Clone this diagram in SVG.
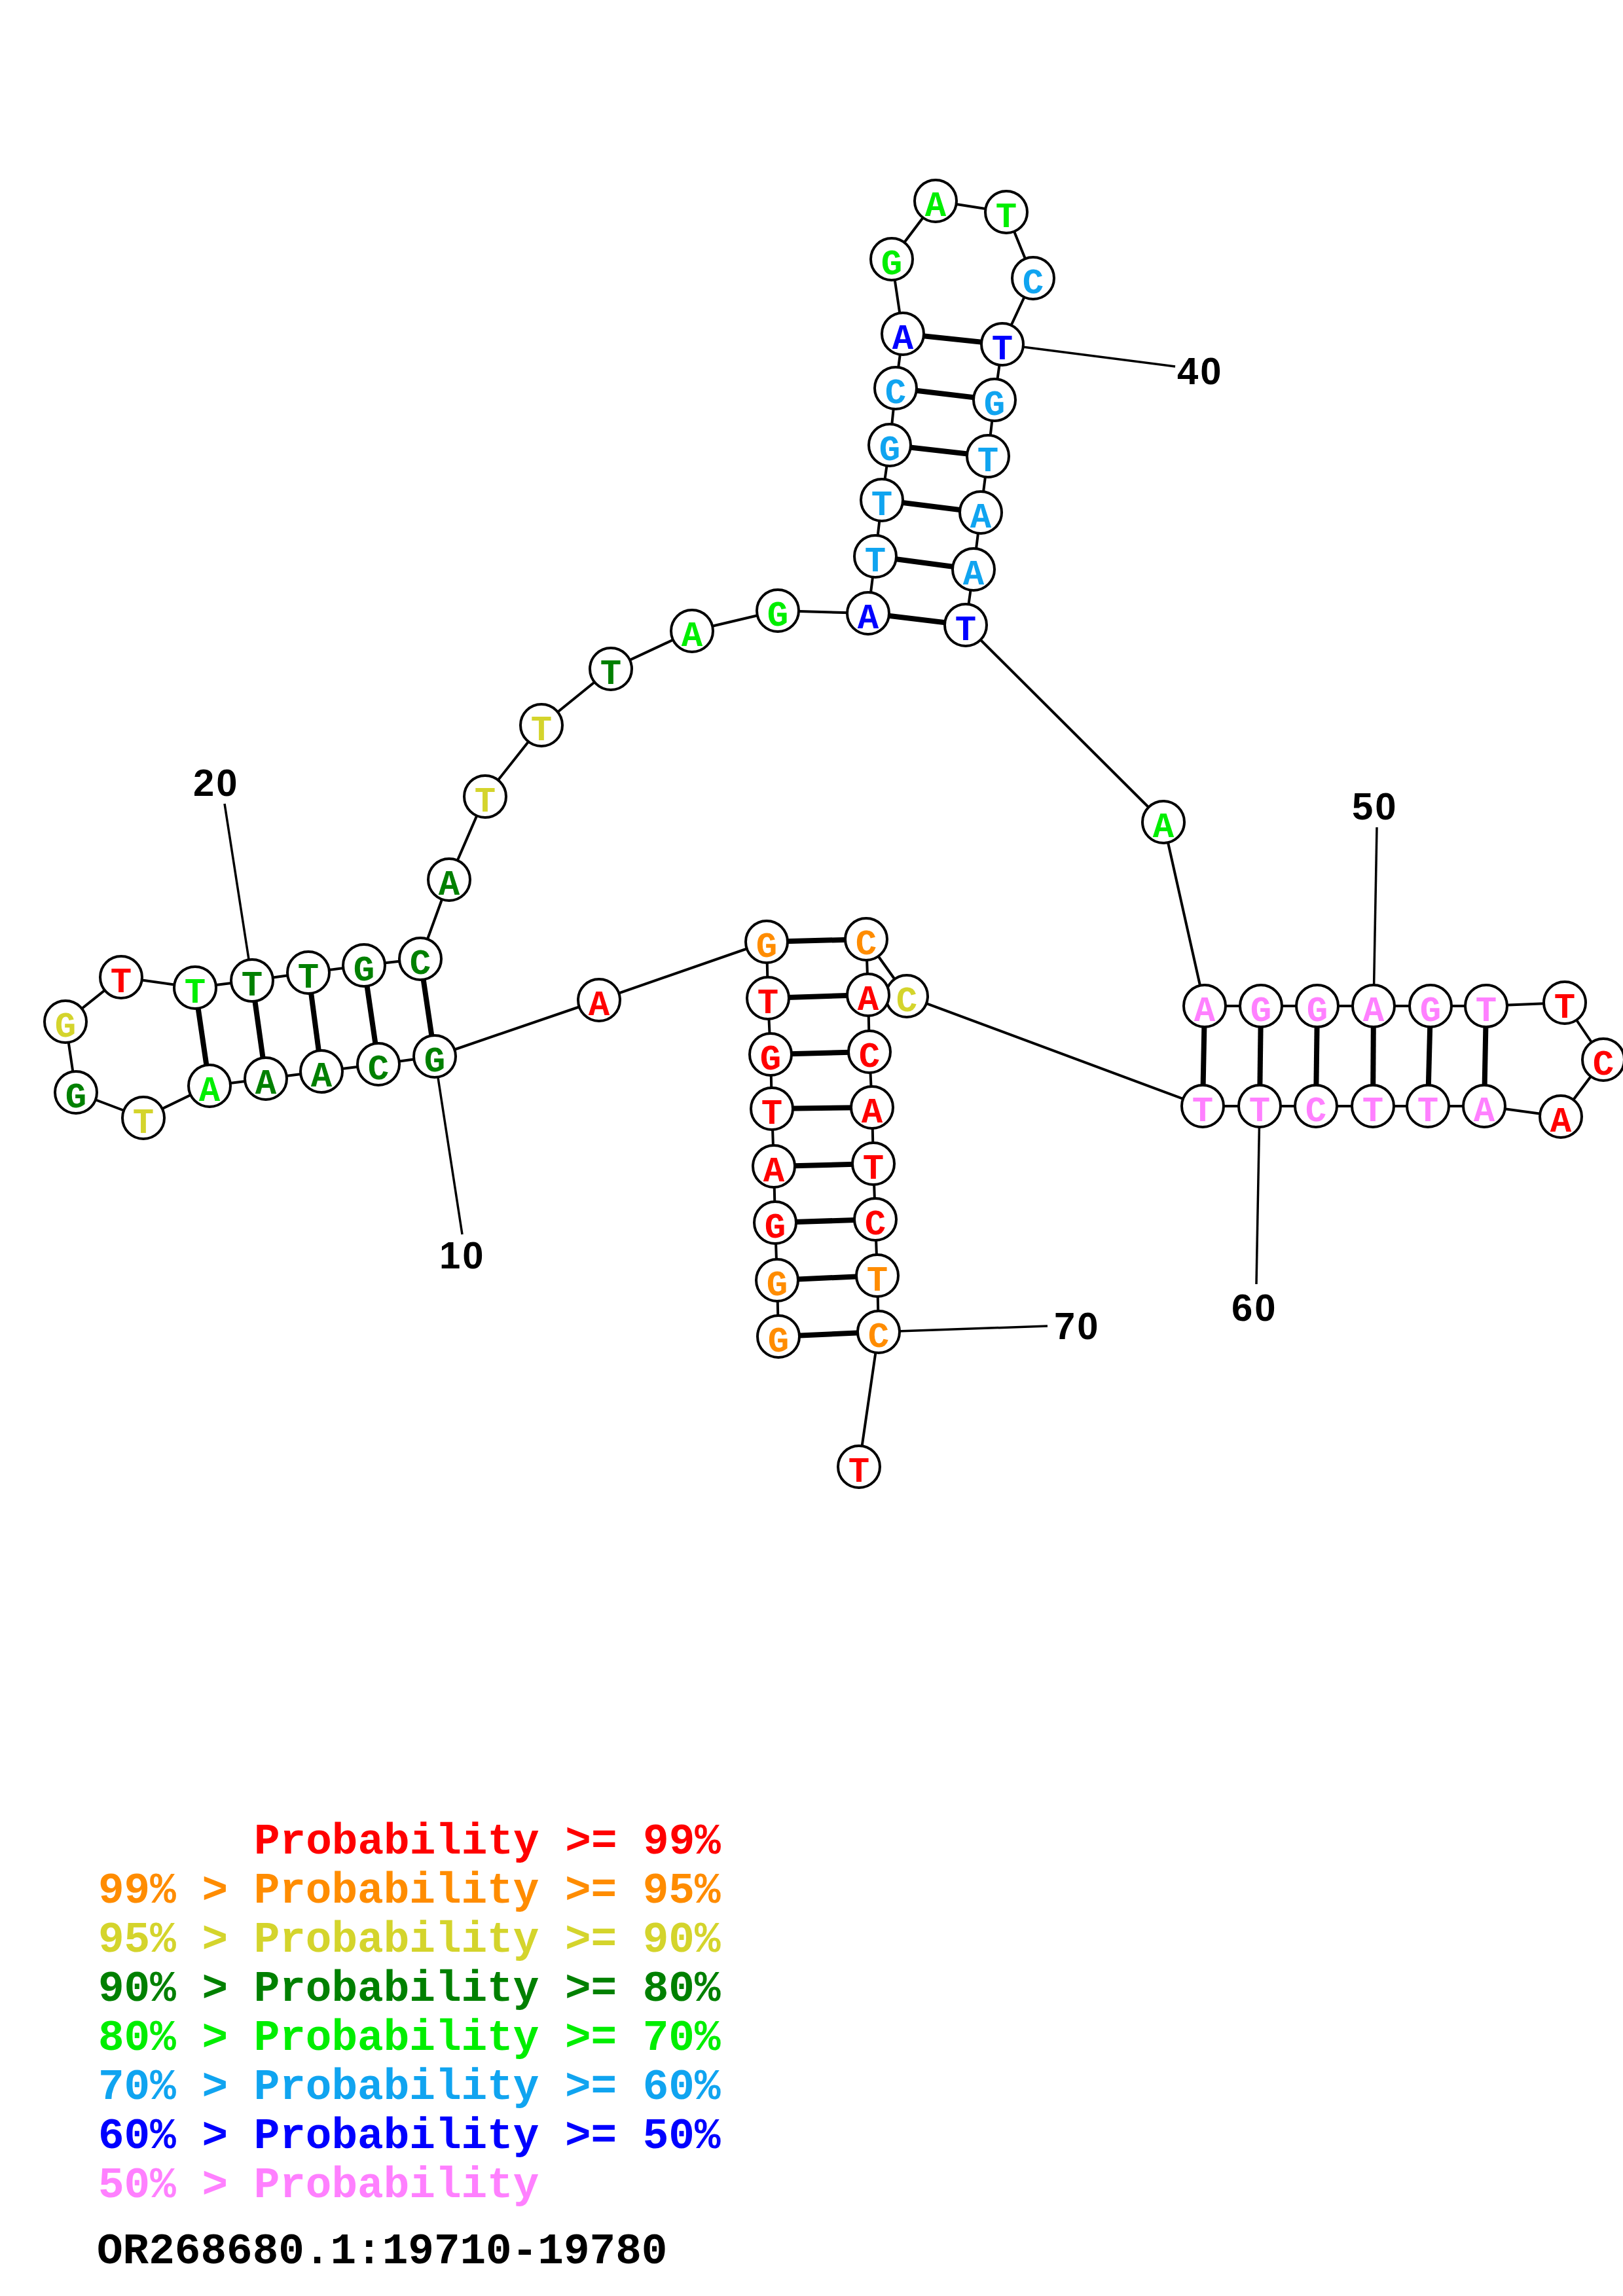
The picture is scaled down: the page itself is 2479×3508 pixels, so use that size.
<svg xmlns="http://www.w3.org/2000/svg" width="2479" height="3508" viewBox="0 0 2479 3508">
<style>
.bg{fill:#fff}
.bb{fill:none;stroke:#000;stroke-width:4;stroke-linejoin:round}
.bp{stroke:#000;stroke-width:8}
.ln{stroke:#000;stroke-width:3.5}
.n circle{fill:#fff;stroke:#000;stroke-width:4}
.n text{font-family:"Liberation Mono","DejaVu Sans Mono",monospace;font-weight:bold;font-size:54px;text-anchor:middle}
.lbl{font-family:"Liberation Sans",Arial,sans-serif;font-weight:bold;font-size:58px;letter-spacing:3px;fill:#000}
.leg{font-family:"Liberation Mono","DejaVu Sans Mono",monospace;font-weight:bold;font-size:66px}
.r{fill:#ff0000}.o{fill:#ff8c00}.y{fill:#d4d42c}.dg{fill:#008000}.lg{fill:#00ee00}.s{fill:#10a4f0}.b{fill:#0000ff}.p{fill:#ff80ff}.k{fill:#000}
</style>
<rect class="bg" x="0" y="0" width="2479" height="3508"/>
<g id="connectors">
<polyline class="bb" points="1189,2042 1187,1956 1184,1868 1182,1782 1179,1694 1177,1611 1173,1525 1171,1439 915,1528 664,1614 578,1626 491,1637 406,1648 320,1659 219,1708 116,1669 100,1561 185,1493 298,1509 385,1498 471,1486 556,1475 642,1465 686,1344 741,1217 827,1108 933,1022 1057,964 1188,933 1326,937 1337,850 1347,764 1359,680 1368,593 1379,510 1362,396 1429,307 1537,324 1578,425 1531,526 1519,611 1509,697 1498,783 1487,870 1475,955 1777,1256 1840,1537 1926,1537 2012,1537 2098,1537 2185,1537 2270,1537 2390,1532 2449,1619 2384,1706 2267,1690 2181,1690 2097,1690 2010,1690 1924,1690 1837,1690 1385,1522 1323,1435 1326,1520 1328,1607 1332,1692 1334,1778 1337,1863 1340,1949 1342,2035 1312,2241"/>
<line class="bp" x1="1189" y1="2042" x2="1342" y2="2035"/>
<line class="bp" x1="1187" y1="1956" x2="1340" y2="1949"/>
<line class="bp" x1="1184" y1="1868" x2="1337" y2="1863"/>
<line class="bp" x1="1182" y1="1782" x2="1334" y2="1778"/>
<line class="bp" x1="1179" y1="1694" x2="1332" y2="1692"/>
<line class="bp" x1="1177" y1="1611" x2="1328" y2="1607"/>
<line class="bp" x1="1173" y1="1525" x2="1326" y2="1520"/>
<line class="bp" x1="1171" y1="1439" x2="1323" y2="1435"/>
<line class="bp" x1="664" y1="1614" x2="642" y2="1465"/>
<line class="bp" x1="578" y1="1626" x2="556" y2="1475"/>
<line class="bp" x1="491" y1="1637" x2="471" y2="1486"/>
<line class="bp" x1="406" y1="1648" x2="385" y2="1498"/>
<line class="bp" x1="320" y1="1659" x2="298" y2="1509"/>
<line class="bp" x1="1326" y1="937" x2="1475" y2="955"/>
<line class="bp" x1="1337" y1="850" x2="1487" y2="870"/>
<line class="bp" x1="1347" y1="764" x2="1498" y2="783"/>
<line class="bp" x1="1359" y1="680" x2="1509" y2="697"/>
<line class="bp" x1="1368" y1="593" x2="1519" y2="611"/>
<line class="bp" x1="1379" y1="510" x2="1531" y2="526"/>
<line class="bp" x1="1840" y1="1537" x2="1837" y2="1690"/>
<line class="bp" x1="1926" y1="1537" x2="1924" y2="1690"/>
<line class="bp" x1="2012" y1="1537" x2="2010" y2="1690"/>
<line class="bp" x1="2098" y1="1537" x2="2097" y2="1690"/>
<line class="bp" x1="2185" y1="1537" x2="2181" y2="1690"/>
<line class="bp" x1="2270" y1="1537" x2="2267" y2="1690"/>
<line class="ln" x1="664" y1="1614" x2="706" y2="1886"/>
<line class="ln" x1="385" y1="1498" x2="343" y2="1228"/>
<line class="ln" x1="1531" y1="526" x2="1795" y2="560"/>
<line class="ln" x1="2098" y1="1537" x2="2103" y2="1264"/>
<line class="ln" x1="1924" y1="1690" x2="1919" y2="1962"/>
<line class="ln" x1="1342" y1="2035" x2="1600" y2="2026"/>
</g>
<g id="n1" class="n"><circle cx="1189" cy="2042" r="32"/><text x="1189" y="2065" class="o">G</text></g>
<g id="n2" class="n"><circle cx="1187" cy="1956" r="32"/><text x="1187" y="1979" class="o">G</text></g>
<g id="n3" class="n"><circle cx="1184" cy="1868" r="32"/><text x="1184" y="1891" class="r">G</text></g>
<g id="n4" class="n"><circle cx="1182" cy="1782" r="32"/><text x="1182" y="1805" class="r">A</text></g>
<g id="n5" class="n"><circle cx="1179" cy="1694" r="32"/><text x="1179" y="1717" class="r">T</text></g>
<g id="n6" class="n"><circle cx="1177" cy="1611" r="32"/><text x="1177" y="1634" class="r">G</text></g>
<g id="n7" class="n"><circle cx="1173" cy="1525" r="32"/><text x="1173" y="1548" class="r">T</text></g>
<g id="n8" class="n"><circle cx="1171" cy="1439" r="32"/><text x="1171" y="1462" class="o">G</text></g>
<g id="n9" class="n"><circle cx="915" cy="1528" r="32"/><text x="915" y="1551" class="r">A</text></g>
<g id="n10" class="n"><circle cx="664" cy="1614" r="32"/><text x="664" y="1637" class="dg">G</text></g>
<g id="n11" class="n"><circle cx="578" cy="1626" r="32"/><text x="578" y="1649" class="dg">C</text></g>
<g id="n12" class="n"><circle cx="491" cy="1637" r="32"/><text x="491" y="1660" class="dg">A</text></g>
<g id="n13" class="n"><circle cx="406" cy="1648" r="32"/><text x="406" y="1671" class="dg">A</text></g>
<g id="n14" class="n"><circle cx="320" cy="1659" r="32"/><text x="320" y="1682" class="lg">A</text></g>
<g id="n15" class="n"><circle cx="219" cy="1708" r="32"/><text x="219" y="1731" class="y">T</text></g>
<g id="n16" class="n"><circle cx="116" cy="1669" r="32"/><text x="116" y="1692" class="dg">G</text></g>
<g id="n17" class="n"><circle cx="100" cy="1561" r="32"/><text x="100" y="1584" class="y">G</text></g>
<g id="n18" class="n"><circle cx="185" cy="1493" r="32"/><text x="185" y="1516" class="r">T</text></g>
<g id="n19" class="n"><circle cx="298" cy="1509" r="32"/><text x="298" y="1532" class="lg">T</text></g>
<g id="n20" class="n"><circle cx="385" cy="1498" r="32"/><text x="385" y="1521" class="dg">T</text></g>
<g id="n21" class="n"><circle cx="471" cy="1486" r="32"/><text x="471" y="1509" class="dg">T</text></g>
<g id="n22" class="n"><circle cx="556" cy="1475" r="32"/><text x="556" y="1498" class="dg">G</text></g>
<g id="n23" class="n"><circle cx="642" cy="1465" r="32"/><text x="642" y="1488" class="dg">C</text></g>
<g id="n24" class="n"><circle cx="686" cy="1344" r="32"/><text x="686" y="1367" class="dg">A</text></g>
<g id="n25" class="n"><circle cx="741" cy="1217" r="32"/><text x="741" y="1240" class="y">T</text></g>
<g id="n26" class="n"><circle cx="827" cy="1108" r="32"/><text x="827" y="1131" class="y">T</text></g>
<g id="n27" class="n"><circle cx="933" cy="1022" r="32"/><text x="933" y="1045" class="dg">T</text></g>
<g id="n28" class="n"><circle cx="1057" cy="964" r="32"/><text x="1057" y="987" class="lg">A</text></g>
<g id="n29" class="n"><circle cx="1188" cy="933" r="32"/><text x="1188" y="956" class="lg">G</text></g>
<g id="n30" class="n"><circle cx="1326" cy="937" r="32"/><text x="1326" y="960" class="b">A</text></g>
<g id="n31" class="n"><circle cx="1337" cy="850" r="32"/><text x="1337" y="873" class="s">T</text></g>
<g id="n32" class="n"><circle cx="1347" cy="764" r="32"/><text x="1347" y="787" class="s">T</text></g>
<g id="n33" class="n"><circle cx="1359" cy="680" r="32"/><text x="1359" y="703" class="s">G</text></g>
<g id="n34" class="n"><circle cx="1368" cy="593" r="32"/><text x="1368" y="616" class="s">C</text></g>
<g id="n35" class="n"><circle cx="1379" cy="510" r="32"/><text x="1379" y="533" class="b">A</text></g>
<g id="n36" class="n"><circle cx="1362" cy="396" r="32"/><text x="1362" y="419" class="lg">G</text></g>
<g id="n37" class="n"><circle cx="1429" cy="307" r="32"/><text x="1429" y="330" class="lg">A</text></g>
<g id="n38" class="n"><circle cx="1537" cy="324" r="32"/><text x="1537" y="347" class="lg">T</text></g>
<g id="n39" class="n"><circle cx="1578" cy="425" r="32"/><text x="1578" y="448" class="s">C</text></g>
<g id="n40" class="n"><circle cx="1531" cy="526" r="32"/><text x="1531" y="549" class="b">T</text></g>
<g id="n41" class="n"><circle cx="1519" cy="611" r="32"/><text x="1519" y="634" class="s">G</text></g>
<g id="n42" class="n"><circle cx="1509" cy="697" r="32"/><text x="1509" y="720" class="s">T</text></g>
<g id="n43" class="n"><circle cx="1498" cy="783" r="32"/><text x="1498" y="806" class="s">A</text></g>
<g id="n44" class="n"><circle cx="1487" cy="870" r="32"/><text x="1487" y="893" class="s">A</text></g>
<g id="n45" class="n"><circle cx="1475" cy="955" r="32"/><text x="1475" y="978" class="b">T</text></g>
<g id="n46" class="n"><circle cx="1777" cy="1256" r="32"/><text x="1777" y="1279" class="lg">A</text></g>
<g id="n47" class="n"><circle cx="1840" cy="1537" r="32"/><text x="1840" y="1560" class="p">A</text></g>
<g id="n48" class="n"><circle cx="1926" cy="1537" r="32"/><text x="1926" y="1560" class="p">G</text></g>
<g id="n49" class="n"><circle cx="2012" cy="1537" r="32"/><text x="2012" y="1560" class="p">G</text></g>
<g id="n50" class="n"><circle cx="2098" cy="1537" r="32"/><text x="2098" y="1560" class="p">A</text></g>
<g id="n51" class="n"><circle cx="2185" cy="1537" r="32"/><text x="2185" y="1560" class="p">G</text></g>
<g id="n52" class="n"><circle cx="2270" cy="1537" r="32"/><text x="2270" y="1560" class="p">T</text></g>
<g id="n53" class="n"><circle cx="2390" cy="1532" r="32"/><text x="2390" y="1555" class="r">T</text></g>
<g id="n54" class="n"><circle cx="2449" cy="1619" r="32"/><text x="2449" y="1642" class="r">C</text></g>
<g id="n55" class="n"><circle cx="2384" cy="1706" r="32"/><text x="2384" y="1729" class="r">A</text></g>
<g id="n56" class="n"><circle cx="2267" cy="1690" r="32"/><text x="2267" y="1713" class="p">A</text></g>
<g id="n57" class="n"><circle cx="2181" cy="1690" r="32"/><text x="2181" y="1713" class="p">T</text></g>
<g id="n58" class="n"><circle cx="2097" cy="1690" r="32"/><text x="2097" y="1713" class="p">T</text></g>
<g id="n59" class="n"><circle cx="2010" cy="1690" r="32"/><text x="2010" y="1713" class="p">C</text></g>
<g id="n60" class="n"><circle cx="1924" cy="1690" r="32"/><text x="1924" y="1713" class="p">T</text></g>
<g id="n61" class="n"><circle cx="1837" cy="1690" r="32"/><text x="1837" y="1713" class="p">T</text></g>
<g id="n62" class="n"><circle cx="1385" cy="1522" r="32"/><text x="1385" y="1545" class="y">C</text></g>
<g id="n63" class="n"><circle cx="1323" cy="1435" r="32"/><text x="1323" y="1458" class="o">C</text></g>
<g id="n64" class="n"><circle cx="1326" cy="1520" r="32"/><text x="1326" y="1543" class="r">A</text></g>
<g id="n65" class="n"><circle cx="1328" cy="1607" r="32"/><text x="1328" y="1630" class="r">C</text></g>
<g id="n66" class="n"><circle cx="1332" cy="1692" r="32"/><text x="1332" y="1715" class="r">A</text></g>
<g id="n67" class="n"><circle cx="1334" cy="1778" r="32"/><text x="1334" y="1801" class="r">T</text></g>
<g id="n68" class="n"><circle cx="1337" cy="1863" r="32"/><text x="1337" y="1886" class="r">C</text></g>
<g id="n69" class="n"><circle cx="1340" cy="1949" r="32"/><text x="1340" y="1972" class="o">T</text></g>
<g id="n70" class="n"><circle cx="1342" cy="2035" r="32"/><text x="1342" y="2058" class="o">C</text></g>
<g id="n71" class="n"><circle cx="1312" cy="2241" r="32"/><text x="1312" y="2264" class="r">T</text></g>
<g id="labels">
<text class="lbl" x="671" y="1938">10</text>
<text class="lbl" x="295" y="1216">20</text>
<text class="lbl" x="1798" y="587">40</text>
<text class="lbl" x="2065" y="1252">50</text>
<text class="lbl" x="1881" y="2018">60</text>
<text class="lbl" x="1610" y="2046">70</text>
</g>
<g id="legend">
<text class="leg r" x="388" y="2832">Probability &gt;= 99%</text>
<text class="leg o" x="150" y="2907">99% &gt; Probability &gt;= 95%</text>
<text class="leg y" x="150" y="2982">95% &gt; Probability &gt;= 90%</text>
<text class="leg dg" x="150" y="3057">90% &gt; Probability &gt;= 80%</text>
<text class="leg lg" x="150" y="3132">80% &gt; Probability &gt;= 70%</text>
<text class="leg s" x="150" y="3207">70% &gt; Probability &gt;= 60%</text>
<text class="leg b" x="150" y="3282">60% &gt; Probability &gt;= 50%</text>
<text class="leg p" x="150" y="3357">50% &gt; Probability</text>
<text class="leg k" x="148" y="3458">OR268680.1:19710-19780</text>
</g>
</svg>
